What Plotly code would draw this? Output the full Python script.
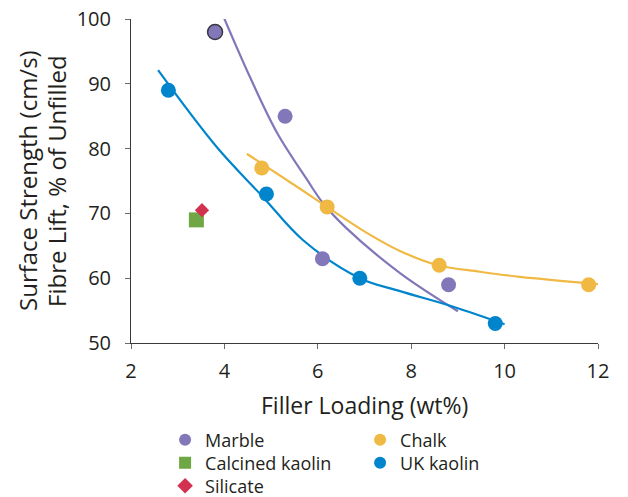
import plotly.graph_objects as go

# ---- data ----
marble_x = [3.8, 5.3, 6.1, 8.8]
marble_y = [98, 85, 63, 59]
marble_highlight = 0  # point drawn with a dark outline

chalk_x = [4.8, 6.2, 8.6, 11.8]
chalk_y = [77, 71, 62, 59]

uk_kaolin_x = [2.8, 4.9, 6.9, 9.8]
uk_kaolin_y = [89, 73, 60, 53]

calcined_x = [3.4]
calcined_y = [69]

silicate_x = [3.52]
silicate_y = [70.5]

# trend lines
marble_fit_x = [3.99, 4.55, 5.13, 5.77, 6.11, 6.6, 7.76, 9.0]
marble_fit_y = [100.2, 91.0, 82.4, 75.2, 71.6, 67.8, 60.8, 54.9]

chalk_fit_x = [4.48, 5.62, 6.2, 7.05, 7.76, 8.57, 9.47, 10.33, 12.0]
chalk_fit_y = [79.2, 73.8, 71.0, 67.0, 64.2, 62.0, 61.0, 60.2, 59.1]

uk_fit_x = [2.58, 3.84, 4.83, 5.68, 6.9, 7.76, 8.9, 10.0]
uk_fit_y = [92.1, 80.2, 72.5, 65.9, 60.0, 58.0, 55.6, 52.9]

x_title = "Filler Loading (wt%)"
y_title_lines = ["Surface Strength (cm/s)", "Fibre Lift, % of Unfilled"]

C_MARBLE = "#8177b9"
C_CHALK = "#f0b944"
C_UK = "#0085cc"
C_CALC = "#6fa744"
C_SIL = "#d2324f"
TXT = "#231f20"
FONT = "Open Sans"

fig = go.Figure()

# trend lines first (under markers)
for fx, fy, col in [(marble_fit_x, marble_fit_y, C_MARBLE),
                    (chalk_fit_x, chalk_fit_y, C_CHALK),
                    (uk_fit_x, uk_fit_y, C_UK)]:
    fig.add_trace(go.Scatter(x=fx, y=fy, mode="lines", showlegend=False,
                             line=dict(color=col, width=2.2, shape="spline", smoothing=1),
                             hoverinfo="skip"))

fig.add_trace(go.Scatter(x=marble_x, y=marble_y, mode="markers", name="Marble", legend="legend",
                         marker=dict(symbol="circle", size=15, color=C_MARBLE)))
fig.add_trace(go.Scatter(x=chalk_x, y=chalk_y, mode="markers", name="Chalk", legend="legend",
                         marker=dict(symbol="circle", size=15, color=C_CHALK)))
fig.add_trace(go.Scatter(x=calcined_x, y=calcined_y, mode="markers", name="Calcined kaolin",
                         legend="legend2",
                         marker=dict(symbol="square", size=15, color=C_CALC)))
fig.add_trace(go.Scatter(x=uk_kaolin_x, y=uk_kaolin_y, mode="markers", name="UK kaolin",
                         legend="legend2",
                         marker=dict(symbol="circle", size=15, color=C_UK)))
fig.add_trace(go.Scatter(x=silicate_x, y=silicate_y, mode="markers", name="Silicate",
                         legend="legend3",
                         marker=dict(symbol="diamond", size=11, color=C_SIL)))
# highlighted marble point with dark outline
fig.add_trace(go.Scatter(x=[marble_x[marble_highlight]], y=[marble_y[marble_highlight]],
                         mode="markers", showlegend=False,
                         marker=dict(symbol="circle", size=15, color=C_MARBLE,
                                     line=dict(color="#3a3640", width=1.5))))

axis_common = dict(showline=True, linecolor="#3a3a3a", linewidth=1,
                   ticks="outside", ticklen=5, tickcolor="#6a6a6a", tickwidth=1,
                   showgrid=False, zeroline=False, ticklabeloverflow="allow",
                   tickfont=dict(family=FONT, size=20, color=TXT))

leg_common = dict(orientation="h", x=0.073, xanchor="left", yanchor="middle",
                  entrywidth=150, entrywidthmode="pixels", itemsizing="constant",
                  itemwidth=30, font=dict(family=FONT, size=18, color=TXT),
                  bgcolor="rgba(0,0,0,0)")

# page body has an 8px margin: figure sized to fit the window
fig.update_layout(
    width=620, height=489,
    margin=dict(l=123, r=30, t=11, b=154, autoexpand=False),
    paper_bgcolor="white", plot_bgcolor="white",
    font=dict(family=FONT, color=TXT),
    xaxis=dict(range=[2, 12], tickvals=[2, 4, 6, 8, 10, 12], ticklabelstandoff=5,
               **axis_common),
    yaxis=dict(range=[50, 100], tickvals=[50, 60, 70, 80, 90, 100], ticklabelstandoff=10,
               **axis_common),
    legend=dict(y=-0.2994, **leg_common),
    legend2=dict(y=-0.3704, **leg_common),
    legend3=dict(y=-0.4414, **leg_common),
    showlegend=True,
)

fig.add_annotation(text=x_title, xref="paper", yref="paper", x=0.5, y=-0.19,
                   xanchor="center", yanchor="middle", showarrow=False,
                   font=dict(family=FONT, size=23, color=TXT))
for px, line in zip([27, 56], y_title_lines):
    fig.add_annotation(text=line, xref="paper", yref="paper", x=(px - 131) / 467, y=0.5,
                       xanchor="center", yanchor="middle", showarrow=False, textangle=-90,
                       font=dict(family=FONT, size=24, color=TXT))

fig.write_html("out.html")
